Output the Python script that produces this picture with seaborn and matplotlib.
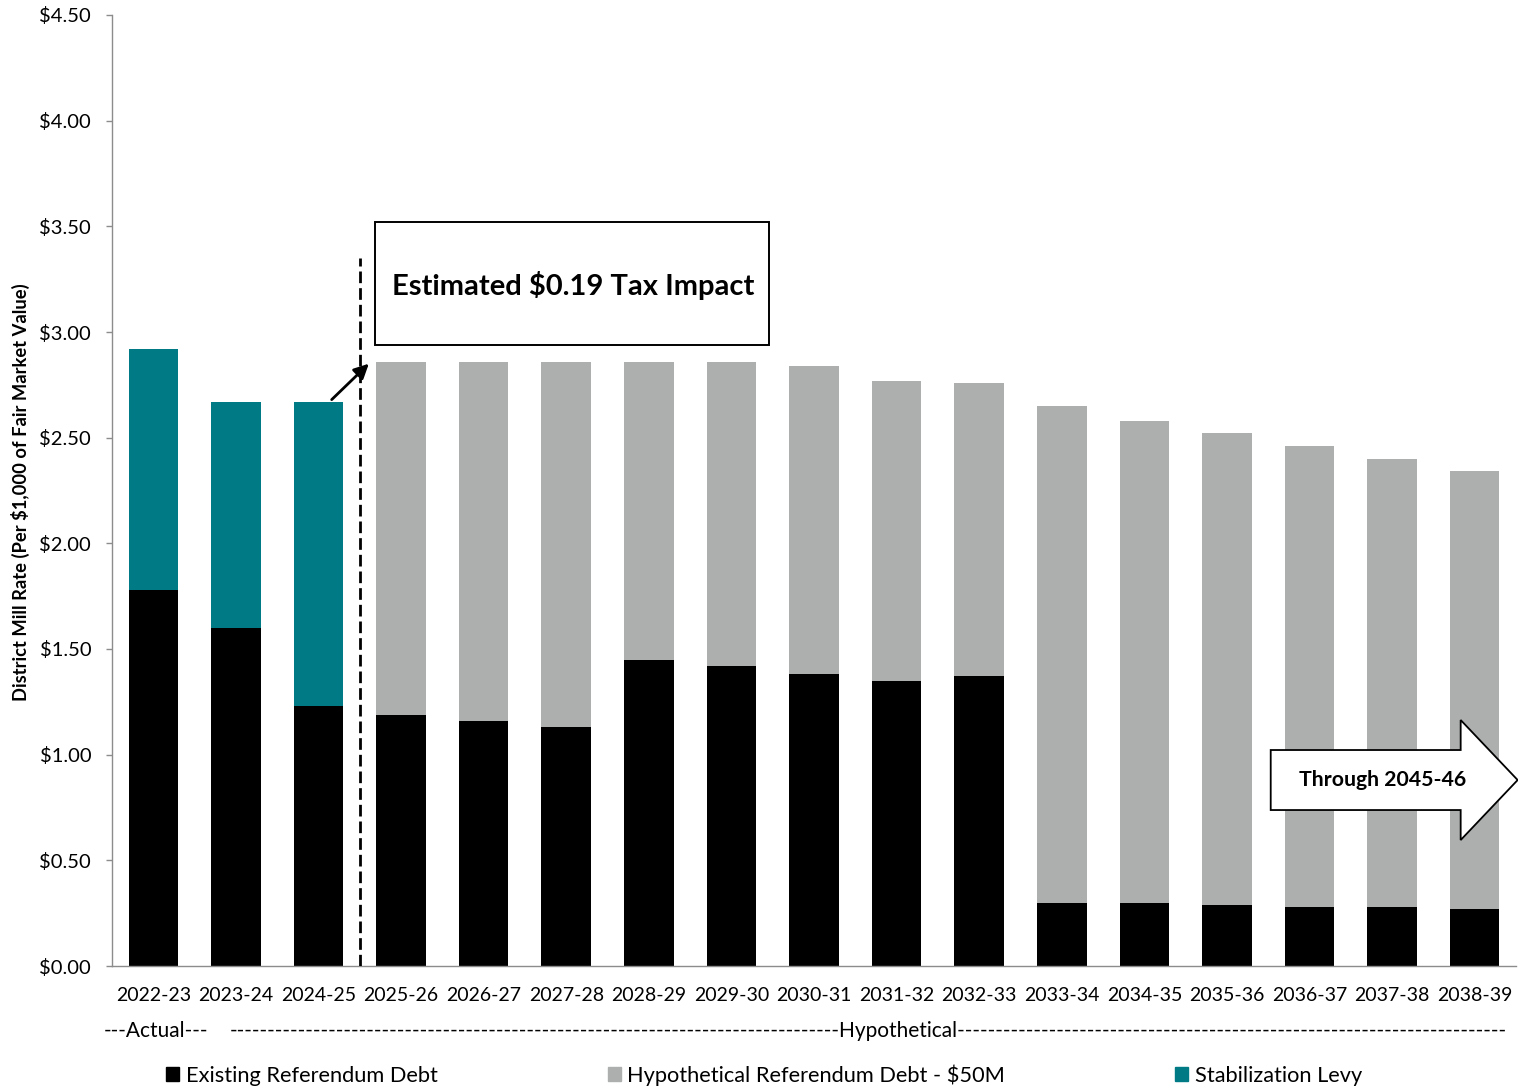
import matplotlib
matplotlib.use("Agg")
import matplotlib.pyplot as plt
import seaborn as sns
import numpy as np
from matplotlib.patches import Rectangle, Polygon

years = ["2022-23", "2023-24", "2024-25", "2025-26", "2026-27", "2027-28", "2028-29",
         "2029-30", "2030-31", "2031-32", "2032-33", "2033-34", "2034-35", "2035-36",
         "2036-37", "2037-38", "2038-39"]
existing = [1.78, 1.60, 1.23, 1.19, 1.16, 1.13, 1.45, 1.42, 1.38, 1.35, 1.37,
            0.30, 0.30, 0.29, 0.28, 0.28, 0.27]
hypothetical = [0.00, 0.00, 0.00, 1.67, 1.70, 1.73, 1.41, 1.44, 1.46, 1.42, 1.39,
                2.35, 2.28, 2.23, 2.18, 2.12, 2.07]
stabilization = [1.14, 1.07, 1.44, 0, 0, 0, 0, 0, 0, 0, 0, 0, 0, 0, 0, 0, 0]
yticks = [0.0, 0.5, 1.0, 1.5, 2.0, 2.5, 3.0, 3.5, 4.0, 4.5]
series_labels = ["Existing Referendum Debt", "Hypothetical Referendum Debt - $50M",
                 "Stabilization Levy"]

TEAL = "#007B85"
GRAY = "#ADAFAE"
BLACK = "#000000"
AXC = "#8C8C8C"

sns.set_theme(style="white")
plt.rcParams['font.family'] = ['Lato', 'DejaVu Sans']
plt.rcParams['text.color'] = 'black'
plt.rcParams['xtick.color'] = 'black'
plt.rcParams['ytick.color'] = 'black'

W, H = 1518, 1088
fig = plt.figure(figsize=(W / 100, H / 100), dpi=100)
ax = fig.add_axes([112 / W, 122 / H, (1516 - 112) / W, (966 - 15) / H])

ex = np.array(existing)
top_teal = ex + np.array(stabilization)
top_gray = ex + np.array(hypothetical)

common = dict(order=years, width=0.6, saturation=1, errorbar=None, ax=ax, linewidth=0)
sns.barplot(x=years, y=top_teal, color=TEAL, **common)
sns.barplot(x=years, y=top_gray, color=GRAY, **common)
sns.barplot(x=years, y=ex, color=BLACK, **common)

ax.set_xlim(-0.5, 16.5)
ax.set_ylim(0, 4.5)
ax.set_yticks(yticks)
ax.set_yticklabels([f"${v:.2f}" for v in yticks], fontsize=14.5)
ax.set_xticks(range(len(years)))
ax.set_xticklabels(years, fontsize=14)
ax.set_xticks(np.arange(-0.5, 17, 1), minor=True)
ax.tick_params(axis='x', which='major', length=0, pad=15)
ax.tick_params(axis='x', which='minor', length=6, color=AXC, direction='out', width=1)
ax.tick_params(axis='y', length=4, color=AXC, direction='out', width=1, pad=11, left=True)
for s in ["top", "right"]:
    ax.spines[s].set_visible(False)
for s in ["left", "bottom"]:
    ax.spines[s].set_color(AXC)
    ax.spines[s].set_linewidth(1)
ax.set_xlabel("")
ax.set_ylabel("")
fig.text(20 / W, 1 - 492 / H, "District Mill Rate (Per $1,000 of Fair Market Value)",
         rotation=90, ha='center', va='center', fontsize=13.2, fontweight='bold')

# dashed divider
ax.plot([2.5, 2.5], [0, 3.35], color='black', lw=2, ls=(0, (4.2, 1.8)), zorder=5)
# arrow
ax.annotate("", xy=(2.61, 2.85), xytext=(2.16, 2.68),
            arrowprops=dict(arrowstyle='-|>', color='black', lw=2, mutation_scale=22,
                            shrinkA=0, shrinkB=0), zorder=6)
# impact box
ax.add_patch(Rectangle((2.68, 2.94), 4.77, 0.58, facecolor='white', edgecolor='black',
                       lw=1.4, zorder=6))
ax.text(5.08, 3.22, "Estimated $0.19 Tax Impact", ha='center', va='center',
        fontsize=21, fontweight='bold', zorder=7)

# through arrow
pts = [(13.53, 1.022), (15.83, 1.022), (15.83, 1.164), (16.52, 0.880),
       (15.83, 0.596), (15.83, 0.738), (13.53, 0.738)]
ax.add_patch(Polygon(pts, closed=True, facecolor='white', edgecolor='black', lw=1.3,
                     zorder=6, clip_on=False))
ax.text(14.89, 0.88, "Through 2045-46", ha='center', va='center', fontsize=15.3,
        fontweight='bold', zorder=7)

# Actual / Hypothetical labels
ylab = 1 - 1031 / H
fig.text(156 / W, ylab, "---Actual---", ha='center', va='center', fontsize=15)
fig.canvas.draw()
r = fig.canvas.get_renderer()
t = fig.text(0, 0, "-" * 50, fontsize=15)
dash_w = t.get_window_extent(r).width / 50
t.remove()
t2 = fig.text(0, 0, "Hypothetical", fontsize=15)
hw = t2.get_window_extent(r).width
t2.remove()
hx = 897
n_left = int(round((hx - hw / 2 - 230) / dash_w))
n_right = int(round((1508 - (hx + hw / 2)) / dash_w))
fig.text(230 / W, ylab, "-" * n_left + "Hypothetical" + "-" * n_right, ha='left',
         va='center', fontsize=15)

handles = [Rectangle((0, 0), 1, 1, color=c) for c in (BLACK, GRAY, TEAL)]
fig.legend(handles, series_labels, loc='center left', bbox_to_anchor=(166 / W, 1 - 1075 / H),
           ncol=3, frameon=False, fontsize=15.7, columnspacing=7.8, handlelength=0.6,
           handleheight=0.6, handletextpad=0.3, borderpad=0, borderaxespad=0)

fig.savefig("out.png", dpi=100)
